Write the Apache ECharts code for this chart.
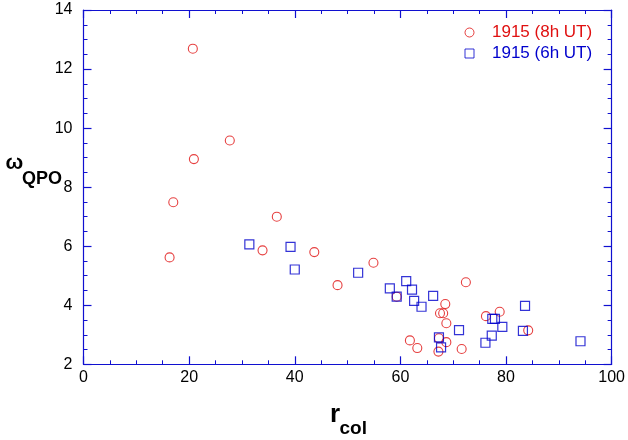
<!DOCTYPE html>
<html>
<head>
<meta charset="utf-8">
<script src="https://cdn.jsdelivr.net/npm/echarts@6/dist/echarts.min.js"></script>
<style>html,body{margin:0;padding:0;background:#fff;}#c{width:628px;height:440px;}</style>
</head>
<body>
<div id="c"></div>
<script>
// Series 1: 1915 (8h UT) — red open circles [r_col, omega_QPO]
var red8hX = [20.7, 27.7, 20.9, 17.0, 36.6, 33.9, 43.7, 16.3, 54.9, 48.1, 59.3, 68.5, 67.5, 68.1, 68.7, 72.4, 61.8, 63.2, 67.3, 68.7, 67.2, 71.6, 76.2, 78.8, 84.2];
var red8hY = [12.69, 9.58, 8.95, 7.49, 7.0, 5.86, 5.8, 5.62, 5.44, 4.68, 4.29, 4.04, 3.73, 3.73, 3.39, 4.78, 2.81, 2.55, 2.88, 2.75, 2.43, 2.52, 3.63, 3.78, 3.15];
// Series 2: 1915 (6h UT) — blue open squares
var blue6hX = [31.4, 39.2, 40.0, 52.0, 58.0, 61.1, 62.2, 59.3, 62.6, 64.0, 66.2, 71.1, 67.3, 67.7, 76.1, 77.3, 77.4, 77.9, 79.3, 83.6, 83.2, 94.1];
var blue6hY = [6.06, 5.98, 5.21, 5.1, 4.57, 4.82, 4.53, 4.29, 4.15, 3.95, 4.32, 3.16, 2.91, 2.57, 2.73, 2.97, 3.54, 3.54, 3.27, 3.98, 3.13, 2.78];
var seriesNames = ['1915 (8h UT)', '1915 (6h UT)'];
var xTicks = [0, 20, 40, 60, 80, 100];
var yTicks = [2, 4, 6, 8, 10, 12, 14];

function pairs(xs, ys) { return xs.map(function (x, i) { return [x, ys[i]]; }); }

var RED = '#e01010', BLUE = '#0000cc', AXIS = '#1010d0';
var FONT = 'Liberation Sans, Arial, Helvetica, sans-serif';

function xAx(pos, show) {
  return {
    type: 'value', position: pos, min: xTicks[0], max: xTicks[xTicks.length - 1], interval: 20,
    axisLine: { show: true, onZero: false, lineStyle: { color: AXIS, width: 1.2 } },
    axisTick: { show: true, inside: true, length: 8, lineStyle: { color: AXIS, width: 1.2 } },
    minorTick: { show: true, splitNumber: 4, length: 4, lineStyle: { color: AXIS, width: 1 } },
    splitLine: { show: false },
    axisLabel: { show: show, color: '#000', fontSize: 16, fontFamily: FONT, margin: 5 }
  };
}
function yAx(pos, show) {
  return {
    type: 'value', position: pos, min: yTicks[0], max: yTicks[yTicks.length - 1], interval: 2,
    axisLine: { show: true, onZero: false, lineStyle: { color: AXIS, width: 1.2 } },
    axisTick: { show: true, inside: true, length: 8, lineStyle: { color: AXIS, width: 1.2 } },
    minorTick: { show: true, splitNumber: 4, length: 4, lineStyle: { color: AXIS, width: 1 } },
    splitLine: { show: false },
    axisLabel: { show: show, color: '#000', fontSize: 16, fontFamily: FONT, margin: 11 }
  };
}

var chart = echarts.init(document.getElementById('c'), null, { renderer: 'canvas' });
chart.setOption({
  animation: false,
  backgroundColor: '#fff',
  grid: { left: 83.5, right: 15, top: 10, bottom: 75.7, containLabel: false },
  xAxis: [xAx('bottom', true), xAx('top', false)],
  yAxis: [yAx('left', true), yAx('right', false)],
  legend: {
    orient: 'vertical', left: 459.5, top: 19, itemWidth: 9, itemHeight: 9, itemGap: 4,
    itemStyle: { borderWidth: 1 },
    data: [
      { name: seriesNames[0], textStyle: { color: RED } },
      { name: seriesNames[1], textStyle: { color: BLUE } }
    ],
    textStyle: { fontSize: 17, fontFamily: FONT, padding: [0, 0, 0, 13] }
  },
  series: [
    {
      name: seriesNames[0], type: 'scatter', xAxisIndex: 0, yAxisIndex: 0,
      symbol: 'circle', symbolSize: 9,
      itemStyle: { color: 'rgba(255,255,255,0)', borderColor: RED, borderWidth: 1.1 },
      data: pairs(red8hX, red8hY)
    },
    {
      name: seriesNames[1], type: 'scatter', xAxisIndex: 0, yAxisIndex: 0,
      symbol: 'rect', symbolSize: 9,
      itemStyle: { color: 'rgba(255,255,255,0)', borderColor: BLUE, borderWidth: 1.2 },
      data: pairs(blue6hX, blue6hY)
    }
  ],
  graphic: [
    { type: 'text', left: 330, top: 402, style: { text: 'r', font: 'bold 26px ' + FONT, fill: '#000' } },
    { type: 'text', left: 339.5, top: 419, style: { text: 'col', font: 'bold 19px ' + FONT, fill: '#000' } },
    { type: 'text', left: 5.5, top: 153, style: { text: 'ω', font: 'bold 21px ' + FONT, fill: '#000' } },
    { type: 'text', left: 22, top: 170, style: { text: 'QPO', font: 'bold 18px ' + FONT, fill: '#000' } }
  ]
});
</script>
</body>
</html>
